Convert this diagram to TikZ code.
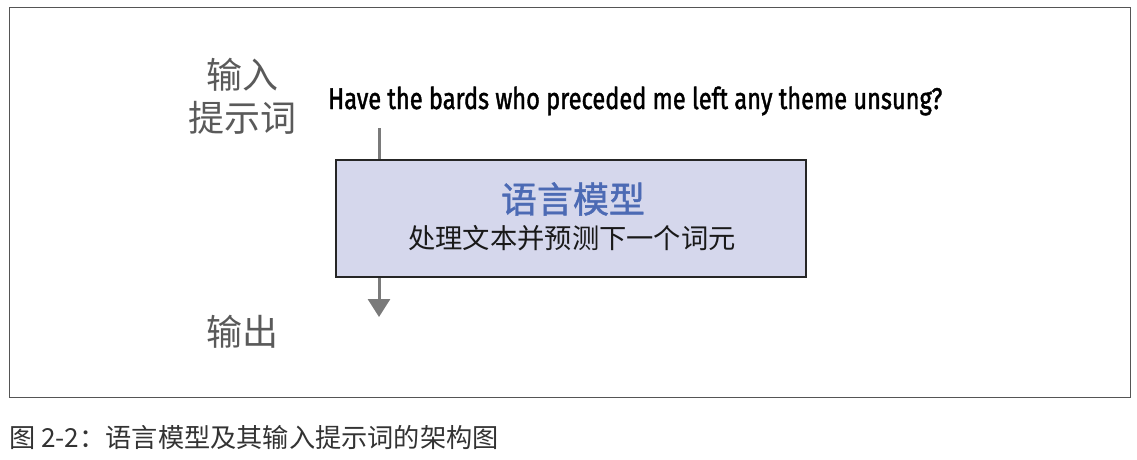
\documentclass[tikz,border=0pt]{standalone}
\usepackage{fontspec}
\usepackage{graphicx}
\setmainfont{Noto Sans CJK SC}
\newfontfamily\cjk{Noto Sans CJK SC}
\newfontfamily\cjkmed{Noto Sans CJK SC}[FakeBold=1.2]
\newfontfamily\fira{Fira Sans}[FakeBold=1.6]
\usetikzlibrary{arrows.meta}
\definecolor{framecol}{HTML}{555555}
\definecolor{labelgray}{HTML}{5A5A5A}
\definecolor{boxfill}{HTML}{D5D7EC}
\definecolor{titleblue}{HTML}{4C6AB4}
\definecolor{arrowgray}{HTML}{7A7A7A}
\definecolor{captiongray}{HTML}{333333}
\tikzset{
  sidelabel/.style={inner sep=0pt, text=labelgray, font=\cjk\fontsize{36}{43}\selectfont, align=center},
  modelbox/.style={draw=black!85, line width=2pt, fill=boxfill, minimum width=470pt, minimum height=117pt, inner sep=0pt},
  flow/.style={draw=arrowgray, line width=3pt},
}
\begin{document}
\begin{tikzpicture}[x=1pt,y=-1pt]
\useasboundingbox (0,0) rectangle (1137,460);
\fill[white] (0,0) rectangle (1137,460);
\draw[framecol, line width=1pt] (9,8) rectangle (1130,397);

\node[sidelabel] (inlabel) at (242,96) {输入\\提示词};
\node[inner sep=0pt, anchor=base west] (prompt) at (328,109)
  {\resizebox{614pt}{22.5pt}{\fira Have the bards who preceded me left any theme unsung?}};

\node[modelbox] (model) at (571,218.5) {};
\node[inner sep=0pt, text=titleblue, font=\cjkmed\fontsize{36}{40}\selectfont] (title) at (573,199) {语言模型};
\node[inner sep=0pt, text=black!90, font=\cjk\fontsize{27.3}{30}\selectfont] (sub) at (572,238.5) {处理文本并预测下一个词元};

\node[sidelabel] (outlabel) at (242,332) {输出};

\coordinate (intop) at (379,128);
\coordinate (outtip) at (379,317);
\draw[flow] (intop) -- (intop |- model.north);
\draw[flow, -{Triangle[width=22pt,length=18pt]}] (intop |- model.south) -- (outtip);

\node[inner sep=0pt, anchor=west, text=captiongray, font=\cjk\fontsize{26.2}{29}\selectfont] (caption) at (9,437) {图 2-2：语言模型及其输入提示词的架构图};
\end{tikzpicture}
\end{document}
